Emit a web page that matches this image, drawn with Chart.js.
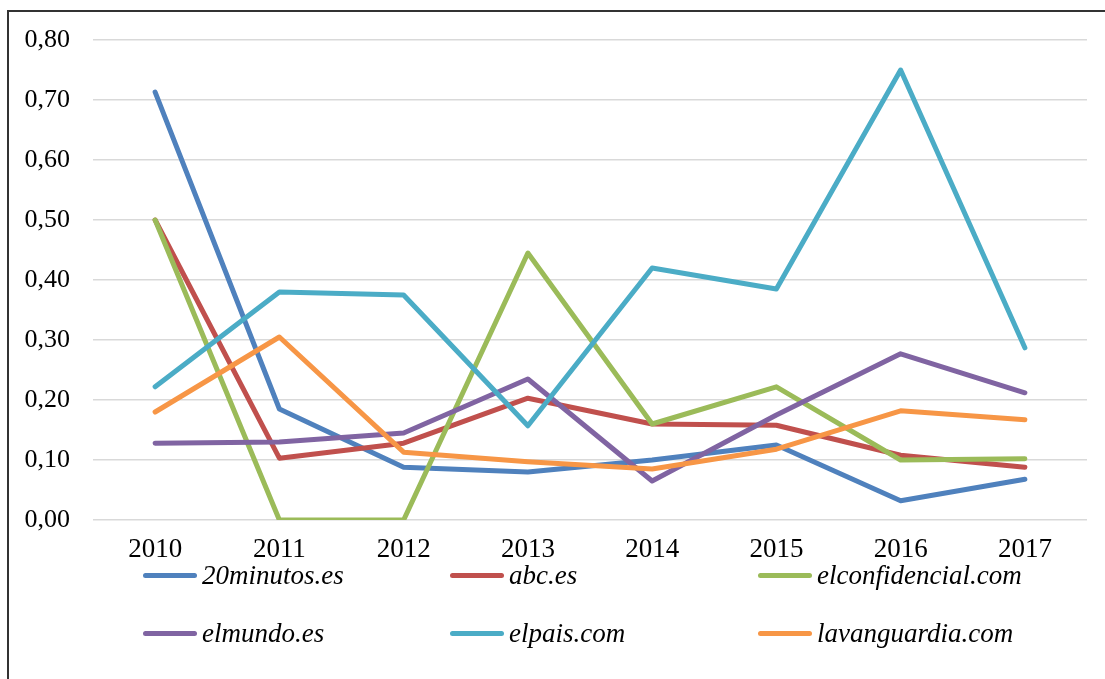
<!DOCTYPE html>
<html>
<head>
<meta charset="utf-8">
<script src="https://cdn.jsdelivr.net/npm/chart.js@4"></script>
<style>
  body { margin: 0; background: #fff; }
  #wrap { position: relative; width: 1105px; height: 679px; overflow: hidden; }
  #frame { position: absolute; left: 7px; top: 10px; width: 1110px; height: 700px;
           border-top: 2px solid #333; border-left: 2px solid #333; }
  #myChart { position: absolute; left: 0; top: 0; }
  .leg { position: absolute; font-family: "Liberation Serif", "Times New Roman", serif; font-style: italic;
         font-size: 27px; color: #000; white-space: nowrap; line-height: 30px; }
  .leg span.ln { display: inline-block; width: 54px; height: 5px; border-radius: 3px;
                 vertical-align: middle; margin-right: 5px; position: relative; top: -2px; }
</style>
</head>
<body>
<div id="wrap">
  <div id="frame"></div>
  <canvas id="myChart" width="1105" height="679"></canvas>
  <div id="legend"></div>
</div>
<script>
var years = ["2010","2011","2012","2013","2014","2015","2016","2017"];
var seriesNames = ["20minutos.es","abc.es","elconfidencial.com","elmundo.es","elpais.com","lavanguardia.com"];
var colors = ["#4F81BD","#C0504D","#9BBB59","#8064A2","#4BACC6","#F79646"];

var minutos20 = [0.713, 0.185, 0.088, 0.080, 0.100, 0.125, 0.032, 0.068];
var abc = [0.500, 0.103, 0.128, 0.203, 0.160, 0.158, 0.108, 0.088];
var elconfidencial = [0.500, 0.000, 0.000, 0.445, 0.160, 0.222, 0.100, 0.102];
var elmundo = [0.128, 0.130, 0.145, 0.235, 0.065, 0.175, 0.277, 0.212];
var elpais = [0.222, 0.380, 0.375, 0.157, 0.420, 0.385, 0.750, 0.287];
var lavanguardia = [0.180, 0.305, 0.113, 0.097, 0.085, 0.118, 0.182, 0.167];

var allValues = [minutos20, abc, elconfidencial, elmundo, elpais, lavanguardia];

var datasets = [];
allValues.forEach(function(vals, i) {
    datasets.push({
        label: seriesNames[i],
        data: vals,
        borderColor: colors[i],
        backgroundColor: colors[i],
        borderWidth: 5,
        borderCapStyle: 'round',
        borderJoinStyle: 'round',
        pointRadius: 0,
        tension: 0,
        fill: false,
        order: -i
    });
});

const config = {
    type: 'line',
    data: { labels: years, datasets: datasets },
    options: {
        responsive: false,
        animation: false,
        layout: { padding: { top: 40, right: 18, left: 0, bottom: 0 } },
        plugins: {
            legend: { display: false },
            tooltip: { enabled: false }
        },
        scales: {
            x: {
                offset: true,
                grid: { display: false, drawTicks: false },
                border: { display: false },
                ticks: {
                    padding: 14,
                    color: '#000',
                    font: { family: 'Liberation Serif', size: 27 }
                },
                afterFit: function(scale) { scale.height = 159; }
            },
            y: {
                min: 0,
                max: 0.8,
                grid: { color: '#d9d9d9', lineWidth: 1.5, drawTicks: false },
                border: { display: false },
                ticks: {
                    stepSize: 0.1,
                    padding: 23,
                    color: '#000',
                    font: { family: 'Liberation Serif', size: 26 },
                    callback: function(v) { return v.toFixed(2).replace('.', ','); }
                },
                afterFit: function(scale) { scale.width = 93; }
            }
        }
    }
};

const myChart = new Chart(document.getElementById('myChart'), config);

// legend in three columns, two rows
var legX = [143, 450, 758];
var legY = [575, 633];
var legend = document.getElementById("legend");
myChart.data.datasets.forEach(function(ds, i) {
    var item = document.createElement("div");
    item.className = "leg";
    item.style.left = legX[i % 3] + "px";
    item.style.top = (legY[Math.floor(i / 3)] - 15) + "px";
    var ln = document.createElement("span");
    ln.className = "ln";
    ln.style.background = ds.borderColor;
    item.appendChild(ln);
    item.appendChild(document.createTextNode(ds.label));
    legend.appendChild(item);
});
</script>
</body>
</html>
